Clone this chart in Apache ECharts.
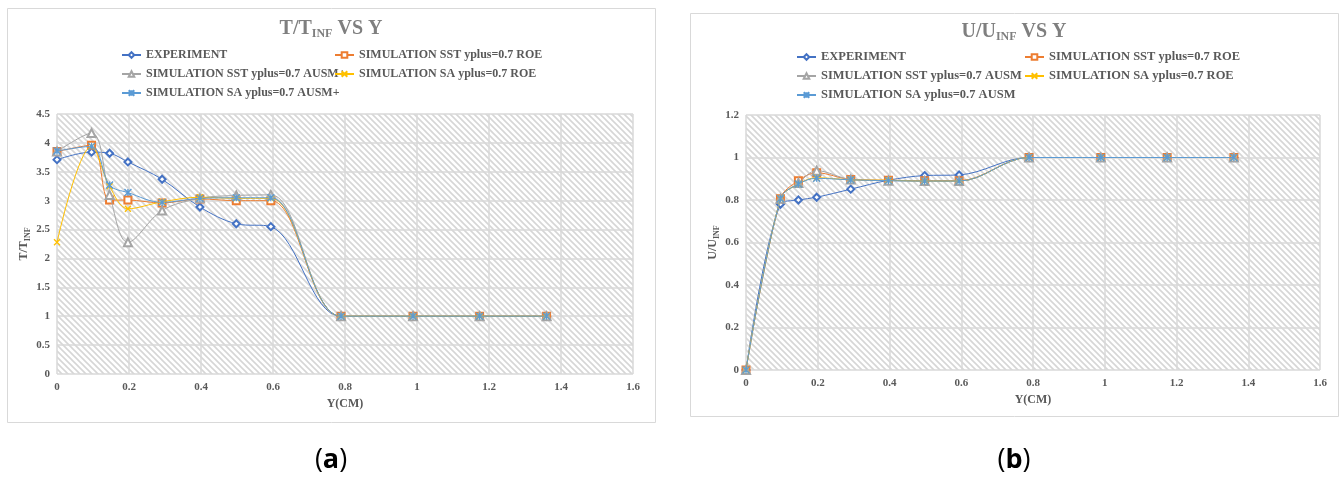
<!DOCTYPE html>
<html>
<head>
<meta charset="utf-8">
<script src="https://cdn.jsdelivr.net/npm/echarts@6/dist/echarts.min.js"></script>
<style>
  html, body { margin: 0; padding: 0; background: #fff; }
  #main { width: 1341px; height: 480px; }
</style>
</head>
<body>
<div id="main"></div>
<script>
// probe positions, Y (cm)
var yPos = [0, 0.096, 0.146, 0.197, 0.292, 0.397, 0.498, 0.594, 0.789, 0.989, 1.174, 1.36];

// (a) T/Tinf
var tExperiment = [3.71, 3.84, 3.82, 3.67, 3.37, 2.89, 2.60, 2.55, 1, 1, 1, 1];
var tSstRoe     = [3.85, 3.96, 3.01, 3.01, 2.96, 3.03, 3.00, 3.00, 1, 1, 1, 1];
var tSstAusm    = [3.85, 4.17, 3.10, 2.28, 2.83, 3.04, 3.09, 3.10, 1, 1, 1, 1];
var tSaRoe      = [2.28, 3.94, 3.25, 2.86, 2.98, 3.06, 3.04, 3.04, 1, 1, 1, 1];
var tSaAusm     = [3.86, 3.94, 3.27, 3.14, 2.97, 3.04, 3.05, 3.05, 1, 1, 1, 1];

// (b) U/Uinf
var uExperiment = [0, 0.780, 0.800, 0.813, 0.851, 0.893, 0.915, 0.918, 1, 1, 1, 1];
var uSstRoe     = [0, 0.806, 0.891, 0.928, 0.897, 0.893, 0.891, 0.891, 1, 1, 1, 1];
var uSstAusm    = [0, 0.806, 0.880, 0.938, 0.897, 0.891, 0.889, 0.889, 1, 1, 1, 1];
var uSaRoe      = [0, 0.806, 0.875, 0.905, 0.895, 0.893, 0.889, 0.889, 1, 1, 1, 1];
var uSaAusm     = [0, 0.806, 0.875, 0.902, 0.895, 0.891, 0.889, 0.889, 1, 1, 1, 1];

var namesA = ['EXPERIMENT', 'SIMULATION SST yplus=0.7 ROE', 'SIMULATION SST yplus=0.7 AUSM+',
  'SIMULATION SA yplus=0.7 ROE', 'SIMULATION SA yplus=0.7 AUSM+'];
var namesB = ['EXPERIMENT ', 'SIMULATION SST yplus=0.7 ROE ', 'SIMULATION SST yplus=0.7 AUSM',
  'SIMULATION SA yplus=0.7 ROE ', 'SIMULATION SA yplus=0.7 AUSM'];

var SERIF = '"Liberation Serif", "Times New Roman", serif';
var GREY = '#595959';

var looks = [
  {color: '#4472C4', symbol: 'emptyDiamond', size: 7},
  {color: '#ED7D31', symbol: 'emptyRect', size: 7},
  {color: '#A5A5A5', symbol: 'emptyTriangle', size: 8},
  {color: '#FFC000', symbol: 'path://M0,0L10,10M10,0L0,10', size: 6},
  {color: '#5B9BD5', symbol: 'path://M0,0L10,10M10,0L0,10M5,0L5,10', size: 7}
];

// diagonal hatch like the excel plot area fill
function hatch() {
  var s = 6;
  var c = document.createElement('canvas');
  c.width = s; c.height = s;
  var ctx = c.getContext('2d');
  ctx.fillStyle = '#fff';
  ctx.fillRect(0, 0, s, s);
  ctx.strokeStyle = '#d6d6d6';
  ctx.lineWidth = 1.6;
  ctx.beginPath();
  ctx.moveTo(-1, -1); ctx.lineTo(s + 1, s + 1);
  ctx.moveTo(-1, s - 1); ctx.lineTo(1, s + 1);
  ctx.moveTo(s - 1, -1); ctx.lineTo(s + 1, 1);
  ctx.stroke();
  return {image: c, repeat: 'repeat'};
}

function pairs(ys) {
  return yPos.map(function (x, i) { return [x, ys[i]]; });
}

function makeSeries(names, sets, idx) {
  return sets.map(function (ys, i) {
    var lk = looks[i];
    return {
      name: names[i],
      type: 'line',
      xAxisIndex: idx,
      yAxisIndex: idx,
      data: pairs(ys),
      smooth: 0.35,
      smoothConstraint: false,
      symbol: lk.symbol,
      symbolSize: lk.size,
      color: lk.color,
      lineStyle: {color: lk.color, width: 1},
      itemStyle: {color: lk.color, borderColor: lk.color, borderWidth: 1.3},
      emphasis: {disabled: true},
      z: 2 + i
    };
  });
}

function subText(main, sub, size, subSize, color) {
  return {
    text: '{m|' + main + '}{s|' + sub + '}',
    rich: {
      m: {fontSize: size, fontFamily: SERIF, fontWeight: 'bold', fill: color, color: color, verticalAlign: 'top'},
      s: {fontSize: subSize, fontFamily: SERIF, fontWeight: 'bold', fill: color, color: color, verticalAlign: 'top',
        padding: [Math.round(size * 0.45), 0, 0, 0]}
    }
  };
}

var labelStyle = {color: GREY, fontFamily: SERIF, fontWeight: 'bold', fontSize: 11};
var splitLine = {show: true, lineStyle: {color: '#d9d9d9', width: 1.5}};

function xAxis(idx) {
  return {
    type: 'value', gridIndex: idx, min: 0, max: 1.6, interval: 0.2,
    name: 'Y(CM)', nameLocation: 'middle', nameGap: 23,
    nameTextStyle: {color: GREY, fontFamily: SERIF, fontWeight: 'bold', fontSize: 12},
    axisLine: {show: false}, axisTick: {show: false},
    axisLabel: Object.assign({margin: 8}, labelStyle),
    splitLine: splitLine
  };
}

function yAxis(idx, max, interval, letter) {
  return {
    type: 'value', gridIndex: idx, min: 0, max: max, interval: interval,
    name: '{m|' + letter + '/' + letter + '}{s|INF}', nameLocation: 'middle', nameGap: 17, nameRotate: 90,
    nameTextStyle: {rich: {
      m: {fontSize: 12, fontFamily: SERIF, fontWeight: 'bold', color: GREY, verticalAlign: 'top'},
      s: {fontSize: 8, fontFamily: SERIF, fontWeight: 'bold', color: GREY, verticalAlign: 'top', padding: [6, 0, 0, 0]}
    }},
    axisLine: {show: false}, axisTick: {show: false},
    axisLabel: Object.assign({margin: 7}, labelStyle),
    splitLine: splitLine
  };
}

function legend(names, left, top, fontSize) {
  return {
    data: names, orient: 'vertical', left: left, top: top,
    itemWidth: 19, itemHeight: 7, itemGap: 5, padding: 0,
    selectedMode: false,
    textStyle: {color: GREY, fontFamily: SERIF, fontWeight: 'bold', fontSize: fontSize, lineHeight: 14}
  };
}

var titleA = subText('T/T', 'INF', 20, 12, '#7f7f7f');
titleA.text += '{m| VS Y}';
var titleB = subText('U/U', 'INF', 20, 12, '#7f7f7f');
titleB.text += '{m| VS Y}';

var chart = echarts.init(document.getElementById('main'), null, {renderer: 'canvas'});
var pat = hatch();

var option = {
  animation: false,
  backgroundColor: '#fff',
  grid: [
    {left: 57, top: 114, width: 576, height: 260, show: true, backgroundColor: pat, borderWidth: 0},
    {left: 746, top: 115, width: 574, height: 255, show: true, backgroundColor: pat, borderWidth: 0}
  ],
  xAxis: [xAxis(0), xAxis(1)],
  yAxis: [yAxis(0, 4.5, 0.5, 'T'), yAxis(1, 1.2, 0.2, 'U')],
  legend: [
    legend([namesA[0], namesA[2], namesA[4]], 121, 48, 12),
    legend([namesA[1], namesA[3]], 334, 48, 12),
    legend([namesB[0], namesB[2], namesB[4]], 796, 50, 12.5),
    legend([namesB[1], namesB[3]], 1024, 50, 12.5)
  ],
  graphic: [
    {type: 'rect', shape: {x: 7.5, y: 8.5, width: 648, height: 414}, style: {fill: null, stroke: '#d9d9d9', lineWidth: 1}, silent: true, z: -1},
    {type: 'rect', shape: {x: 690.5, y: 13.5, width: 648, height: 403}, style: {fill: null, stroke: '#d9d9d9', lineWidth: 1}, silent: true, z: -1},
    {type: 'text', x: 331, y: 19, style: {text: titleA.text, rich: titleA.rich, align: 'center'}},
    {type: 'text', x: 1014, y: 22, style: {text: titleB.text, rich: titleB.rich, align: 'center'}},
    {type: 'text', x: 331, y: 460, style: {
      text: '{p|(}{b|a}{p|)}', align: 'center', verticalAlign: 'middle',
      rich: {p: {fontSize: 27, fontFamily: '"Open Sans", "Noto Sans", sans-serif', fill: '#000'},
             b: {fontSize: 27, fontFamily: '"Open Sans", "Noto Sans", sans-serif', fontWeight: 'bold', fill: '#000'}}}},
    {type: 'text', x: 1014, y: 460, style: {
      text: '{p|(}{b|b}{p|)}', align: 'center', verticalAlign: 'middle',
      rich: {p: {fontSize: 27, fontFamily: '"Open Sans", "Noto Sans", sans-serif', fill: '#000'},
             b: {fontSize: 27, fontFamily: '"Open Sans", "Noto Sans", sans-serif', fontWeight: 'bold', fill: '#000'}}}}
  ],
  series: makeSeries(namesA, [tExperiment, tSstRoe, tSstAusm, tSaRoe, tSaAusm], 0)
    .concat(makeSeries(namesB, [uExperiment, uSstRoe, uSstAusm, uSaRoe, uSaAusm], 1))
};

chart.setOption(option);
</script>
</body>
</html>
